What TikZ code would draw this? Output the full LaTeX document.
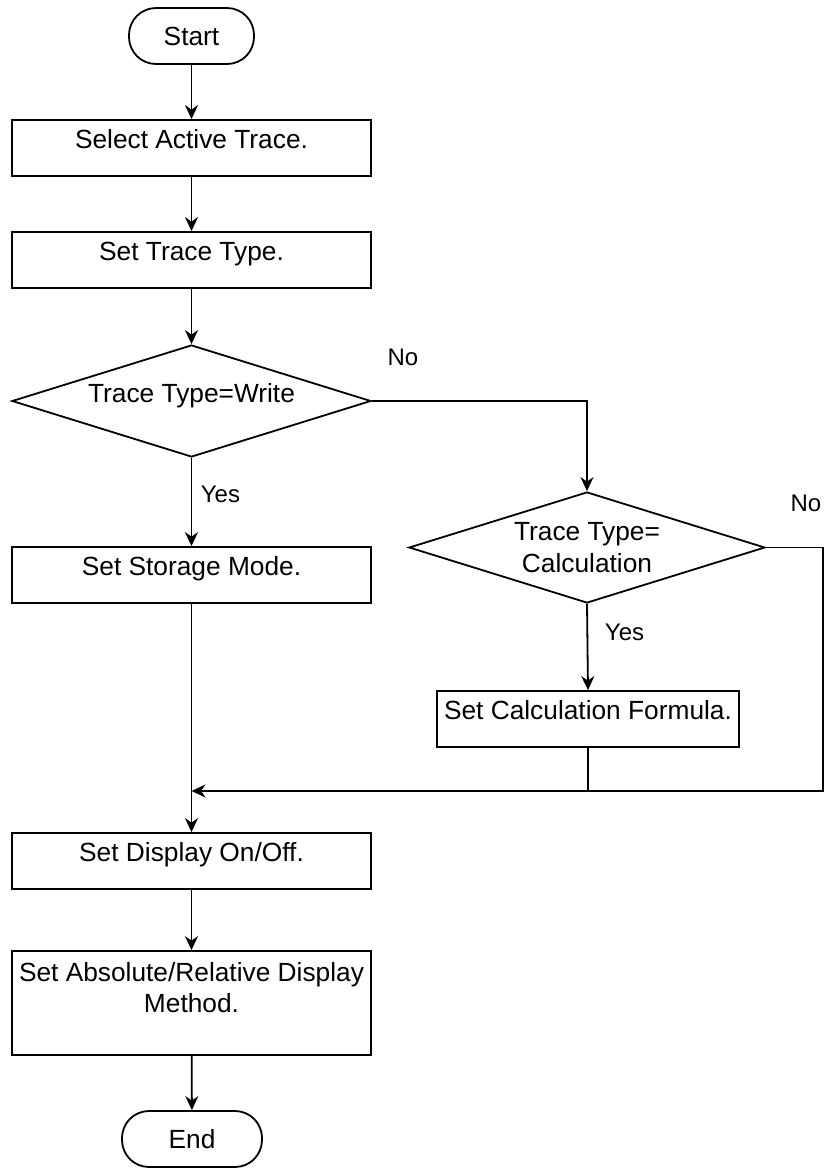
\documentclass[tikz,border=0pt]{standalone}
\usepackage{fontspec}
\setmainfont{Liberation Sans}
\usetikzlibrary{shapes.geometric,arrows.meta}
\tikzset{
  every node/.style={font=\fontsize{26.3}{31}\selectfont},
  term/.style={draw, line width=1.8pt, rounded corners=27pt, minimum height=56pt, inner sep=0pt},
  procbox/.style={draw, line width=1.8pt, minimum width=359pt, minimum height=56pt, text height=20pt, text depth=18.4pt, inner ysep=0pt, inner xsep=2pt},
  decision/.style={draw, diamond, line width=1.8pt, aspect=3.2, inner sep=0pt},
  lbl/.style={font=\fontsize{24}{28}\selectfont, inner sep=0pt},
  arr/.style={line width=1.8pt, -{Stealth[length=14pt,width=13pt,inset=4.5pt]}},
  ln/.style={line width=1.8pt}
}
\begin{document}
\begin{tikzpicture}[x=1pt,y=-1pt]
\useasboundingbox (0,0) rectangle (829,1168);

\node[term, minimum width=125pt] (start) at (191.5,36) {Start};
\node[procbox] (sel) at (191.5,148) {Select Active Trace.};
\node[procbox] (typ) at (191.5,260) {Set Trace Type.};
\node[decision, minimum width=359pt, minimum height=112pt, text height=20pt, text depth=17.4pt] (d1) at (191.5,401) {Trace Type=Write};
\node[procbox] (stor) at (191.5,575) {Set Storage Mode.};
\node[decision, minimum width=356pt, minimum height=111pt, align=center, font=\fontsize{26.3}{32}\selectfont] (d2) at (587,547.5) {Trace Type=\\Calculation};
\node[procbox, minimum width=302pt] (calc) at (588,719) {Set Calculation Formula.};
\node[procbox] (disp) at (191.5,861) {Set Display On/Off.};
\node[draw, line width=1.8pt, minimum width=359pt, minimum height=104pt, inner sep=0pt, align=center] (abs) at (191.5,1003) {Set Absolute/Relative Display\\Method.\\\mbox{}};
\node[term, minimum width=140pt] (end) at (192,1139) {End};

\node[lbl] (no1) at (403,357) {No};
\node[lbl] (yes1) at (220.5,494.5) {Yes};
\node[lbl] (no2) at (806,503) {No};
\node[lbl] (yes2) at (624.5,632) {Yes};

\coordinate (m) at (191.5,791);
\coordinate (rc) at (823,547.5);

\draw[arr] (start) -- (sel);
\draw[arr] (sel) -- (typ);
\draw[arr] (typ) -- (d1);
\draw[arr] (d1.east) -| (d2.north);
\draw[arr] (d1.south) -- (stor.north);
\draw[arr] (d2.south) -- (calc.north);
\draw[ln] (calc.south) -- (calc.south |- m);
\draw[arr] (d2.east) -- (rc) |- (m);
\draw[arr] (stor) -- (disp);
\draw[arr] (disp) -- (abs);
\draw[arr] (abs) -- (end);
\end{tikzpicture}
\end{document}
